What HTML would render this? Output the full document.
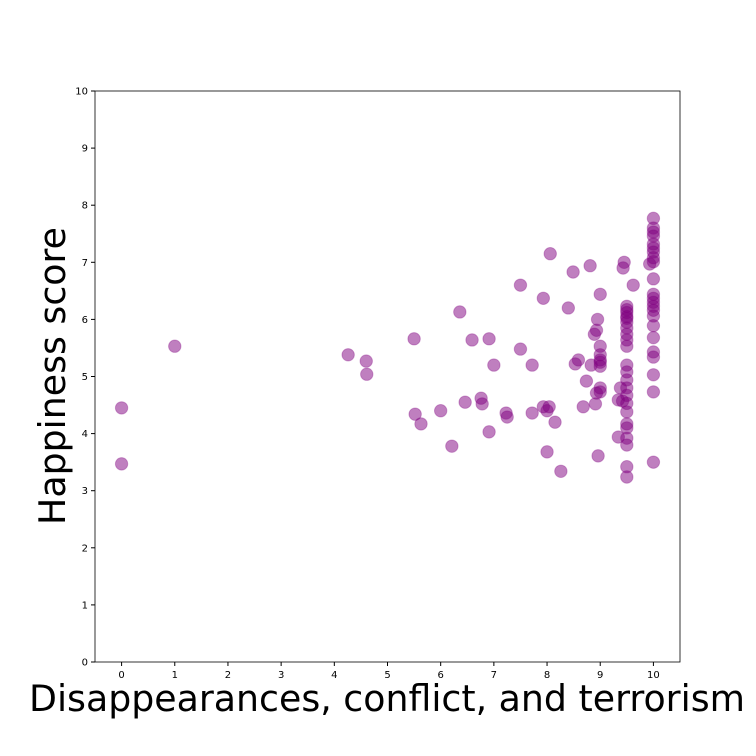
<!DOCTYPE html>
<html><head><meta charset="utf-8"><style>
html,body{margin:0;padding:0;background:#fff;}
svg{display:block;font-family:"DejaVu Sans","Liberation Sans",sans-serif;}
</style></head><body>
<svg id="chart" width="756" height="756">
<rect x="0" y="0" width="756" height="756" fill="#fff"/>
<g id="points"></g>
<g id="axes"></g>
<text x="387" y="711" font-size="36.3" text-anchor="middle">Disappearances, conflict, and terrorism</text>
<text transform="translate(65,376) rotate(-90)" font-size="36.3" text-anchor="middle">Happiness score</text>
</svg>
<script>
const xTicks = [0,1,2,3,4,5,6,7,8,9,10];
const yTicks = [0,1,2,3,4,5,6,7,8,9,10];
const xValues = [0,0,1.0,4.26,4.6,4.61,5.5,5.52,5.63,6.0,6.21,6.36,6.46,6.59,6.76,6.78,6.91,6.91,7.0,7.23,7.25,7.5,7.5,7.72,7.72,7.93,7.93,8.0,8.04,8.06,8.0,8.15,8.26,8.4,8.49,8.53,8.59,8.68,8.74,8.81,8.83,8.89,8.93,8.91,8.95,8.96,8.93,9.0,9.0,9.0,9.0,9.0,9.0,9.0,9.0,9.34,9.34,9.38,9.42,9.45,9.43,9.62,9.93,
9.5,9.5,9.5,9.5,9.5,9.5,9.5,9.5,9.5,9.5,9.5,9.5,9.5,9.5,9.5,9.5,9.5,9.5,9.5,9.5,9.5,9.5,9.5,
10,10,10,10,10,10,10,10,10,10,10,10,10,10,10,10,10,10,10,10,10,10,10];
const yValues = [4.45,3.47,5.53,5.38,5.27,5.04,5.66,4.34,4.17,4.4,3.78,6.13,4.55,5.64,4.62,4.52,5.66,4.03,5.2,4.36,4.29,6.6,5.48,5.2,4.36,6.37,4.47,4.4,4.47,7.15,3.68,4.2,3.34,6.2,6.83,5.22,5.29,4.47,4.92,6.94,5.2,5.74,5.81,4.52,6.0,3.61,4.71,4.8,6.44,5.53,5.38,5.29,5.25,5.18,4.73,3.94,4.59,4.8,4.57,7.0,6.9,6.6,6.97,
6.23,6.17,6.12,6.05,6.02,5.95,5.85,5.74,5.64,5.53,5.2,5.08,4.94,4.8,4.67,4.53,4.38,4.17,4.1,3.92,3.8,3.42,3.24,
7.77,7.6,7.53,7.46,7.32,7.25,7.18,7.08,7.01,6.71,6.44,6.37,6.3,6.23,6.16,6.06,5.89,5.68,5.43,5.34,5.03,4.73,3.5];
const X0=95,X1=680,Y0=662,Y1=91,xmin=-0.5,xmax=10.5,ymin=0,ymax=10;
const sx=v=>X0+(v-xmin)/(xmax-xmin)*(X1-X0);
const sy=v=>Y0-(v-ymin)/(ymax-ymin)*(Y0-Y1);
const NS="http://www.w3.org/2000/svg";
const pg=document.getElementById('points');
for(let i=0;i<xValues.length;i++){
  const c=document.createElementNS(NS,'circle');
  c.setAttribute('cx',sx(xValues[i]));c.setAttribute('cy',sy(yValues[i]));
  c.setAttribute('r',6.2);c.setAttribute('fill','purple');c.setAttribute('fill-opacity','0.5');
  c.setAttribute('stroke','purple');c.setAttribute('stroke-opacity','0.3');c.setAttribute('stroke-width','1');
  
  
  pg.appendChild(c);
}
const ax=document.getElementById('axes');
const fr=document.createElementNS(NS,'rect');
fr.setAttribute('x',X0);fr.setAttribute('y',Y1);fr.setAttribute('width',X1-X0);fr.setAttribute('height',Y0-Y1);
fr.setAttribute('fill','none');fr.setAttribute('stroke','#000');fr.setAttribute('stroke-width','0.8');


ax.appendChild(fr);
xTicks.forEach(t=>{
  const l=document.createElementNS(NS,'line');
  l.setAttribute('x1',sx(t));l.setAttribute('x2',sx(t));l.setAttribute('y1',Y0);l.setAttribute('y2',Y0+4);l.setAttribute('stroke','#000');
  
  
  ax.appendChild(l);
  const tx=document.createElementNS(NS,'text');
  tx.setAttribute('x',sx(t));tx.setAttribute('y',Y0+16);tx.setAttribute('font-size','10');tx.setAttribute('text-anchor','middle');
  tx.textContent=t;
  
  
  ax.appendChild(tx);
});
yTicks.forEach(t=>{
  const l=document.createElementNS(NS,'line');
  l.setAttribute('x1',X0-4);l.setAttribute('x2',X0);l.setAttribute('y1',sy(t));l.setAttribute('y2',sy(t));l.setAttribute('stroke','#000');
  
  
  ax.appendChild(l);
  const tx=document.createElementNS(NS,'text');
  tx.setAttribute('x',X0-7);tx.setAttribute('y',sy(t)+3.5);tx.setAttribute('font-size','10');tx.setAttribute('text-anchor','end');
  tx.textContent=t;
  
  
  ax.appendChild(tx);
});
</script>
</body></html>
